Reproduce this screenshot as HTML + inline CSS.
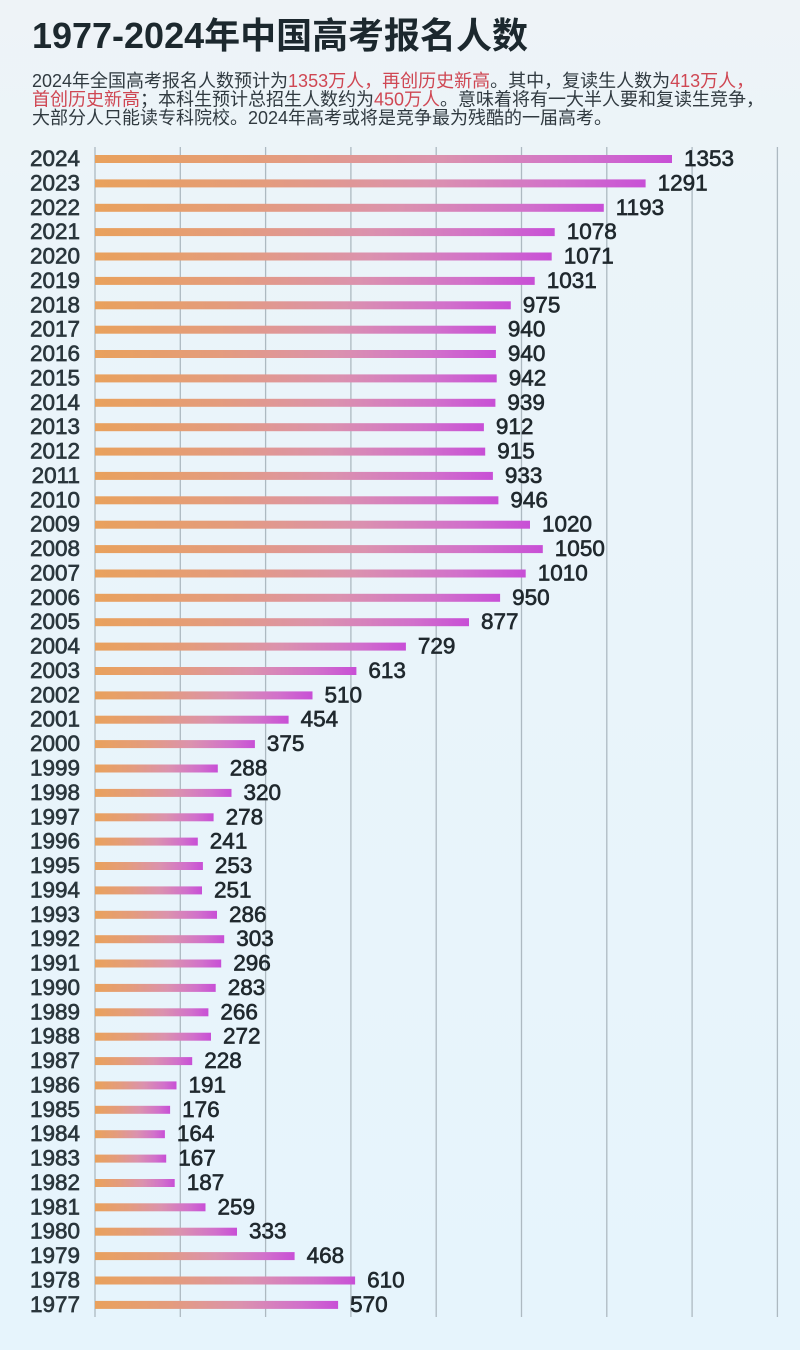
<!DOCTYPE html>
<html><head><meta charset="utf-8"><style>
html,body{margin:0;padding:0;}
body{width:800px;height:1350px;overflow:hidden;background:#eaf4fa;}
svg{display:block;}
.t{font-family:"Liberation Sans","Noto Sans CJK SC",sans-serif;}
.yr{font-family:"Liberation Sans",sans-serif;font-size:22.5px;fill:#2a363c;stroke:#2a363c;stroke-width:0.65;text-anchor:end;}
.vl{font-family:"Liberation Sans",sans-serif;font-size:22.5px;fill:#20292e;stroke:#20292e;stroke-width:0.65;}
</style></head><body>
<svg width="800" height="1350" viewBox="0 0 800 1350" xmlns="http://www.w3.org/2000/svg">
<defs>
<linearGradient id="bg" x1="0" y1="0" x2="0" y2="1">
<stop offset="0" stop-color="#eef3f7"/><stop offset="0.15" stop-color="#ebf4f9"/><stop offset="1" stop-color="#e6f4fc"/>
</linearGradient>
<linearGradient id="bar" x1="0" y1="0" x2="1" y2="0">
<stop offset="0" stop-color="#e9a15c"/><stop offset="0.3" stop-color="#e49c7c"/><stop offset="0.6" stop-color="#db92ae"/><stop offset="0.85" stop-color="#d170cb"/><stop offset="1" stop-color="#c84fd6"/>
</linearGradient>
</defs>
<rect width="800" height="1350" fill="url(#bg)"/>
<text class="t" x="32" y="48" font-size="36" font-weight="bold" fill="#1c282e" textLength="496" lengthAdjust="spacingAndGlyphs">1977-2024年中国高考报名人数</text>
<text class="t" x="32" y="87" font-size="18" fill="#303a40">2024年全国高考报名人数预计为<tspan fill="#cf4753">1353万人，再创历史新高</tspan>。其中，复读生人数为<tspan fill="#cf4753">413万人，</tspan></text>
<text class="t" x="32" y="105.5" font-size="18" fill="#303a40"><tspan fill="#cf4753">首创历史新高</tspan>；本科生预计总招生人数约为<tspan fill="#cf4753">450万人</tspan>。意味着将有一大半人要和复读生竞争，</text>
<text class="t" x="32" y="124" font-size="18" fill="#303a40">大部分人只能读专科院校。2024年高考或将是竞争最为残酷的一届高考。</text>
<g stroke="#adb9c1" stroke-width="1.3">
<line x1="95" y1="147" x2="95" y2="1317"/>
<line x1="180.3" y1="147" x2="180.3" y2="1317"/>
<line x1="265.6" y1="147" x2="265.6" y2="1317"/>
<line x1="350.9" y1="147" x2="350.9" y2="1317"/>
<line x1="436.2" y1="147" x2="436.2" y2="1317"/>
<line x1="521.5" y1="147" x2="521.5" y2="1317"/>
<line x1="606.8" y1="147" x2="606.8" y2="1317"/>
<line x1="692.1" y1="147" x2="692.1" y2="1317"/>
<line x1="777.4" y1="147" x2="777.4" y2="1317"/>
</g>
<g transform="translate(0,159.0)"><rect x="95" y="-4" width="577.0" height="8" fill="url(#bar)"/><text class="yr" x="80" y="7">2024</text><text class="vl" x="684.0" y="7">1353</text></g>
<g transform="translate(0,183.4)"><rect x="95" y="-4" width="550.6" height="8" fill="url(#bar)"/><text class="yr" x="80" y="7">2023</text><text class="vl" x="657.6" y="7">1291</text></g>
<g transform="translate(0,207.8)"><rect x="95" y="-4" width="508.8" height="8" fill="url(#bar)"/><text class="yr" x="80" y="7">2022</text><text class="vl" x="615.8" y="7">1193</text></g>
<g transform="translate(0,232.1)"><rect x="95" y="-4" width="459.7" height="8" fill="url(#bar)"/><text class="yr" x="80" y="7">2021</text><text class="vl" x="566.7" y="7">1078</text></g>
<g transform="translate(0,256.5)"><rect x="95" y="-4" width="456.7" height="8" fill="url(#bar)"/><text class="yr" x="80" y="7">2020</text><text class="vl" x="563.7" y="7">1071</text></g>
<g transform="translate(0,280.9)"><rect x="95" y="-4" width="439.7" height="8" fill="url(#bar)"/><text class="yr" x="80" y="7">2019</text><text class="vl" x="546.7" y="7">1031</text></g>
<g transform="translate(0,305.3)"><rect x="95" y="-4" width="415.8" height="8" fill="url(#bar)"/><text class="yr" x="80" y="7">2018</text><text class="vl" x="522.8" y="7">975</text></g>
<g transform="translate(0,329.7)"><rect x="95" y="-4" width="400.9" height="8" fill="url(#bar)"/><text class="yr" x="80" y="7">2017</text><text class="vl" x="507.9" y="7">940</text></g>
<g transform="translate(0,354.0)"><rect x="95" y="-4" width="400.9" height="8" fill="url(#bar)"/><text class="yr" x="80" y="7">2016</text><text class="vl" x="507.9" y="7">940</text></g>
<g transform="translate(0,378.4)"><rect x="95" y="-4" width="401.7" height="8" fill="url(#bar)"/><text class="yr" x="80" y="7">2015</text><text class="vl" x="508.7" y="7">942</text></g>
<g transform="translate(0,402.8)"><rect x="95" y="-4" width="400.4" height="8" fill="url(#bar)"/><text class="yr" x="80" y="7">2014</text><text class="vl" x="507.4" y="7">939</text></g>
<g transform="translate(0,427.2)"><rect x="95" y="-4" width="388.9" height="8" fill="url(#bar)"/><text class="yr" x="80" y="7">2013</text><text class="vl" x="495.9" y="7">912</text></g>
<g transform="translate(0,451.6)"><rect x="95" y="-4" width="390.2" height="8" fill="url(#bar)"/><text class="yr" x="80" y="7">2012</text><text class="vl" x="497.2" y="7">915</text></g>
<g transform="translate(0,475.9)"><rect x="95" y="-4" width="397.9" height="8" fill="url(#bar)"/><text class="yr" x="80" y="7">2011</text><text class="vl" x="504.9" y="7">933</text></g>
<g transform="translate(0,500.3)"><rect x="95" y="-4" width="403.4" height="8" fill="url(#bar)"/><text class="yr" x="80" y="7">2010</text><text class="vl" x="510.4" y="7">946</text></g>
<g transform="translate(0,524.7)"><rect x="95" y="-4" width="435.0" height="8" fill="url(#bar)"/><text class="yr" x="80" y="7">2009</text><text class="vl" x="542.0" y="7">1020</text></g>
<g transform="translate(0,549.1)"><rect x="95" y="-4" width="447.8" height="8" fill="url(#bar)"/><text class="yr" x="80" y="7">2008</text><text class="vl" x="554.8" y="7">1050</text></g>
<g transform="translate(0,573.5)"><rect x="95" y="-4" width="430.7" height="8" fill="url(#bar)"/><text class="yr" x="80" y="7">2007</text><text class="vl" x="537.7" y="7">1010</text></g>
<g transform="translate(0,597.8)"><rect x="95" y="-4" width="405.1" height="8" fill="url(#bar)"/><text class="yr" x="80" y="7">2006</text><text class="vl" x="512.1" y="7">950</text></g>
<g transform="translate(0,622.2)"><rect x="95" y="-4" width="374.0" height="8" fill="url(#bar)"/><text class="yr" x="80" y="7">2005</text><text class="vl" x="481.0" y="7">877</text></g>
<g transform="translate(0,646.6)"><rect x="95" y="-4" width="310.9" height="8" fill="url(#bar)"/><text class="yr" x="80" y="7">2004</text><text class="vl" x="417.9" y="7">729</text></g>
<g transform="translate(0,671.0)"><rect x="95" y="-4" width="261.4" height="8" fill="url(#bar)"/><text class="yr" x="80" y="7">2003</text><text class="vl" x="368.4" y="7">613</text></g>
<g transform="translate(0,695.4)"><rect x="95" y="-4" width="217.5" height="8" fill="url(#bar)"/><text class="yr" x="80" y="7">2002</text><text class="vl" x="324.5" y="7">510</text></g>
<g transform="translate(0,719.7)"><rect x="95" y="-4" width="193.6" height="8" fill="url(#bar)"/><text class="yr" x="80" y="7">2001</text><text class="vl" x="300.6" y="7">454</text></g>
<g transform="translate(0,744.1)"><rect x="95" y="-4" width="159.9" height="8" fill="url(#bar)"/><text class="yr" x="80" y="7">2000</text><text class="vl" x="266.9" y="7">375</text></g>
<g transform="translate(0,768.5)"><rect x="95" y="-4" width="122.8" height="8" fill="url(#bar)"/><text class="yr" x="80" y="7">1999</text><text class="vl" x="229.8" y="7">288</text></g>
<g transform="translate(0,792.9)"><rect x="95" y="-4" width="136.5" height="8" fill="url(#bar)"/><text class="yr" x="80" y="7">1998</text><text class="vl" x="243.5" y="7">320</text></g>
<g transform="translate(0,817.3)"><rect x="95" y="-4" width="118.6" height="8" fill="url(#bar)"/><text class="yr" x="80" y="7">1997</text><text class="vl" x="225.6" y="7">278</text></g>
<g transform="translate(0,841.6)"><rect x="95" y="-4" width="102.8" height="8" fill="url(#bar)"/><text class="yr" x="80" y="7">1996</text><text class="vl" x="209.8" y="7">241</text></g>
<g transform="translate(0,866.0)"><rect x="95" y="-4" width="107.9" height="8" fill="url(#bar)"/><text class="yr" x="80" y="7">1995</text><text class="vl" x="214.9" y="7">253</text></g>
<g transform="translate(0,890.4)"><rect x="95" y="-4" width="107.0" height="8" fill="url(#bar)"/><text class="yr" x="80" y="7">1994</text><text class="vl" x="214.0" y="7">251</text></g>
<g transform="translate(0,914.8)"><rect x="95" y="-4" width="122.0" height="8" fill="url(#bar)"/><text class="yr" x="80" y="7">1993</text><text class="vl" x="229.0" y="7">286</text></g>
<g transform="translate(0,939.2)"><rect x="95" y="-4" width="129.2" height="8" fill="url(#bar)"/><text class="yr" x="80" y="7">1992</text><text class="vl" x="236.2" y="7">303</text></g>
<g transform="translate(0,963.5)"><rect x="95" y="-4" width="126.2" height="8" fill="url(#bar)"/><text class="yr" x="80" y="7">1991</text><text class="vl" x="233.2" y="7">296</text></g>
<g transform="translate(0,987.9)"><rect x="95" y="-4" width="120.7" height="8" fill="url(#bar)"/><text class="yr" x="80" y="7">1990</text><text class="vl" x="227.7" y="7">283</text></g>
<g transform="translate(0,1012.3)"><rect x="95" y="-4" width="113.4" height="8" fill="url(#bar)"/><text class="yr" x="80" y="7">1989</text><text class="vl" x="220.4" y="7">266</text></g>
<g transform="translate(0,1036.7)"><rect x="95" y="-4" width="116.0" height="8" fill="url(#bar)"/><text class="yr" x="80" y="7">1988</text><text class="vl" x="223.0" y="7">272</text></g>
<g transform="translate(0,1061.1)"><rect x="95" y="-4" width="97.2" height="8" fill="url(#bar)"/><text class="yr" x="80" y="7">1987</text><text class="vl" x="204.2" y="7">228</text></g>
<g transform="translate(0,1085.4)"><rect x="95" y="-4" width="81.5" height="8" fill="url(#bar)"/><text class="yr" x="80" y="7">1986</text><text class="vl" x="188.5" y="7">191</text></g>
<g transform="translate(0,1109.8)"><rect x="95" y="-4" width="75.1" height="8" fill="url(#bar)"/><text class="yr" x="80" y="7">1985</text><text class="vl" x="182.1" y="7">176</text></g>
<g transform="translate(0,1134.2)"><rect x="95" y="-4" width="69.9" height="8" fill="url(#bar)"/><text class="yr" x="80" y="7">1984</text><text class="vl" x="176.9" y="7">164</text></g>
<g transform="translate(0,1158.6)"><rect x="95" y="-4" width="71.2" height="8" fill="url(#bar)"/><text class="yr" x="80" y="7">1983</text><text class="vl" x="178.2" y="7">167</text></g>
<g transform="translate(0,1183.0)"><rect x="95" y="-4" width="79.7" height="8" fill="url(#bar)"/><text class="yr" x="80" y="7">1982</text><text class="vl" x="186.7" y="7">187</text></g>
<g transform="translate(0,1207.3)"><rect x="95" y="-4" width="110.5" height="8" fill="url(#bar)"/><text class="yr" x="80" y="7">1981</text><text class="vl" x="217.5" y="7">259</text></g>
<g transform="translate(0,1231.7)"><rect x="95" y="-4" width="142.0" height="8" fill="url(#bar)"/><text class="yr" x="80" y="7">1980</text><text class="vl" x="249.0" y="7">333</text></g>
<g transform="translate(0,1256.1)"><rect x="95" y="-4" width="199.6" height="8" fill="url(#bar)"/><text class="yr" x="80" y="7">1979</text><text class="vl" x="306.6" y="7">468</text></g>
<g transform="translate(0,1280.5)"><rect x="95" y="-4" width="260.1" height="8" fill="url(#bar)"/><text class="yr" x="80" y="7">1978</text><text class="vl" x="367.1" y="7">610</text></g>
<g transform="translate(0,1304.9)"><rect x="95" y="-4" width="243.1" height="8" fill="url(#bar)"/><text class="yr" x="80" y="7">1977</text><text class="vl" x="350.1" y="7">570</text></g>
</svg>
</body></html>
